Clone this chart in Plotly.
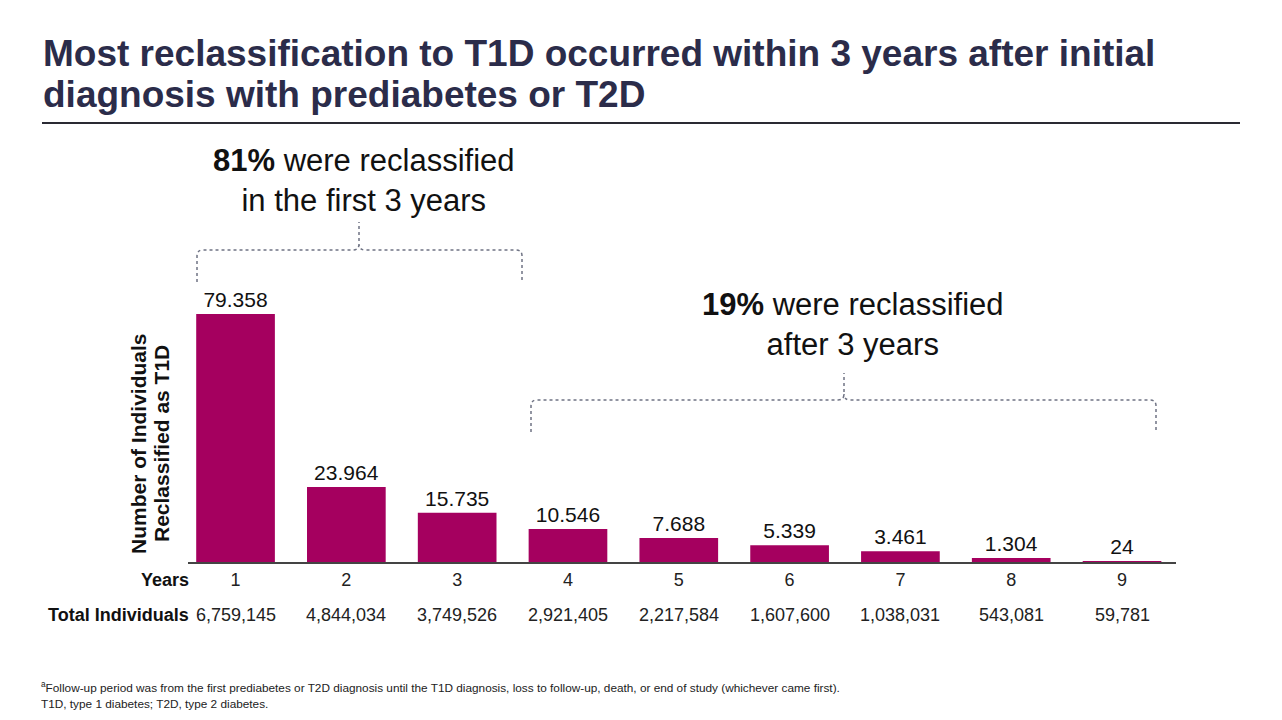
import plotly.graph_objects as go

# Data
years = [1, 2, 3, 4, 5, 6, 7, 8, 9]
reclassified = [79358, 23964, 15735, 10546, 7688, 5339, 3461, 1304, 24]
total_individuals = [6759145, 4844034, 3749526, 2921405, 2217584, 1607600, 1038031, 543081, 59781]

# the page body adds an 8px margin, so the figure is sized to fit without scrollbars
OFF = 8
W, H = 1282 - OFF, 720 - 2 * OFF
FONT = "Liberation Sans, Arial, sans-serif"
BAR = "#A5005F"


# screen pixel -> paper helpers (figure margins are zero)
def px(x):
    return (x - OFF) / W


def py(y):
    return 1 - (y - OFF) / H


def brace(x0, x1, xm, ybar, yl, yr, ytip, r=6):
    p = (f"M {px(x0)},{py(yl)} L {px(x0)},{py(ybar + r)} "
         f"Q {px(x0)},{py(ybar)} {px(x0 + r)},{py(ybar)} "
         f"L {px(xm - r)},{py(ybar)} Q {px(xm)},{py(ybar)} {px(xm)},{py(ybar - r)} "
         f"L {px(xm)},{py(ytip)} "
         f"M {px(x1)},{py(yr)} L {px(x1)},{py(ybar + r)} "
         f"Q {px(x1)},{py(ybar)} {px(x1 - r)},{py(ybar)} "
         f"L {px(xm + r)},{py(ybar)} Q {px(xm)},{py(ybar)} {px(xm)},{py(ybar - r)}")
    return dict(type="path", path=p, xref="paper", yref="paper",
                line=dict(color="#6F7384", width=1.5, dash="dot"))


bar_labels = [f"{v:,}".replace(",", ".") for v in reclassified]

fig = go.Figure(go.Bar(
    x=years, y=reclassified, width=0.71,
    marker=dict(color=BAR, line=dict(width=0)),
    text=bar_labels, textposition="outside", cliponaxis=False,
    textfont=dict(size=21, color="#111111", family=FONT),
))

# bar chart area: baseline at y=562, line from x=188 to 1176
fig.update_xaxes(domain=[px(188), px(1176)], range=[0.571, 9.487],
                 tickvals=years, ticktext=[str(y) for y in years],
                 tickfont=dict(size=18, color="#222222", family=FONT),
                 ticks="", showline=True, linecolor="#444444", linewidth=2,
                 showgrid=False, zeroline=False)
fig.update_yaxes(domain=[py(562), py(250)], range=[0, 312 / 0.003125],
                 visible=False, showgrid=False, zeroline=False)

shapes = [
    # title rule
    dict(type="line", xref="paper", yref="paper", x0=px(42), x1=px(1240),
         y0=py(123), y1=py(123), line=dict(color="#2A2A33", width=2)),
    # braces
    brace(197, 522, 359, 250, 282, 280, 222),
    brace(531, 1156, 844, 400, 432, 430, 373),
]

title_font = dict(size=37, color="#2B2C4A", family=FONT, weight="bold")
ylab_font = dict(size=21, color="#111111", family=FONT, weight="bold")
annotations = [
    dict(text="Most reclassification to T1D occurred within 3 years after initial",
         x=px(41), y=py(54), xanchor="left", yanchor="middle", font=title_font),
    dict(text="diagnosis with prediabetes or T2D",
         x=px(41), y=py(94), xanchor="left", yanchor="middle", font=title_font),
    dict(text="<b>81%</b> were reclassified<br>in the first 3 years",
         x=px(364), y=py(180), xanchor="center", yanchor="middle", align="center",
         font=dict(size=31, color="#111111", family=FONT)),
    dict(text="<b>19%</b> were reclassified<br>after 3 years",
         x=px(853), y=py(325), xanchor="center", yanchor="middle", align="center",
         font=dict(size=31, color="#111111", family=FONT)),
    dict(text="Number of Individuals", textangle=-90,
         x=px(139), y=py(444), xanchor="center", yanchor="middle", font=ylab_font),
    dict(text="Reclassified as T1D", textangle=-90,
         x=px(162), y=py(444), xanchor="center", yanchor="middle", font=ylab_font),
    dict(text="<b>Years</b>", x=px(191), y=py(580), xanchor="right", yanchor="middle",
         font=dict(size=18, color="#111111", family=FONT)),
    dict(text="<b>Total Individuals</b>", x=px(191), y=py(615), xanchor="right", yanchor="middle",
         font=dict(size=18, color="#111111", family=FONT)),
    dict(text="<sup>a</sup>Follow-up period was from the first prediabetes or T2D diagnosis until the "
              "T1D diagnosis, loss to follow-up, death, or end of study (whichever came first).",
         x=px(39), y=py(687), xanchor="left", yanchor="middle",
         font=dict(size=11.8, color="#222222", family=FONT)),
    dict(text="T1D, type 1 diabetes; T2D, type 2 diabetes.",
         x=px(39), y=py(704), xanchor="left", yanchor="middle",
         font=dict(size=11.8, color="#222222", family=FONT)),
]
for yr, tot in zip(years, total_individuals):
    annotations.append(dict(text=f"{tot:,}", x=yr, xref="x", y=py(615), yref="paper",
                            xanchor="center", yanchor="middle", showarrow=False,
                            font=dict(size=18, color="#222222", family=FONT)))
for a in annotations:
    a.setdefault("xref", "paper")
    a.setdefault("yref", "paper")
    a.setdefault("showarrow", False)

fig.update_layout(
    width=W, height=H,
    margin=dict(l=0, r=0, t=0, b=0),
    paper_bgcolor="white", plot_bgcolor="white",
    showlegend=False,
    shapes=shapes, annotations=annotations,
    font=dict(family=FONT),
)

fig.write_html("out.html")
